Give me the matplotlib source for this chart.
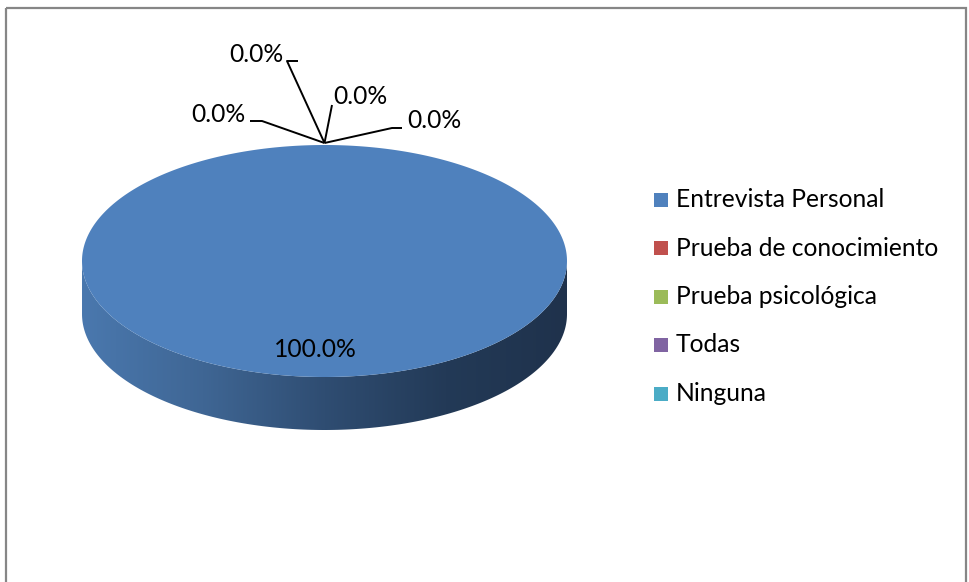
import numpy as np
import matplotlib
matplotlib.use("Agg")
import matplotlib.pyplot as plt
from matplotlib.patches import Polygon, Rectangle
from matplotlib.colors import LinearSegmentedColormap

# survey answers (percent)
categories = ["Entrevista Personal", "Prueba de conocimiento", "Prueba psicológica",
              "Todas", "Ninguna"]
values = [100.0, 0.0, 0.0, 0.0, 0.0]
colors = ["#4F81BD", "#C0504D", "#9BBB59", "#8064A2", "#4BACC6"]

plt.rcParams["font.family"] = ["Lato", "DejaVu Sans"]
FS = 17.7

fig = plt.figure(figsize=(9.69, 5.82), dpi=100)
ax = fig.add_axes([0, 0, 1, 1])
ax.set_xlim(0, 969)
ax.set_ylim(582, 0)
ax.axis("off")

# chart border (bottom edge runs off the page)
ax.add_patch(Rectangle((6.5, 7.5), 959.5, 600, fill=False, ec="#868686", lw=1.6))

# pie geometry in pixels
cx, cy, rx, ry, depth = 324.5, 261, 242.5, 116, 53


def ell(t):
    t = np.radians(t)
    return cx + rx * np.cos(t), cy - ry * np.sin(t)


side_cmap = LinearSegmentedColormap.from_list(
    "side", [(0.0, "#4A78AE"), (0.25, "#3F6694"), (0.5, "#2F4D72"),
             (0.75, "#233A57"), (1.0, "#1F324C")])

total = sum(values)
start = 90.0
anchors = []
for v, c in zip(values, colors):
    sweep = v / total * 360.0
    t1, t2 = start - sweep, start
    mid = start - sweep / 2
    anchors.append(mid)
    if v > 0:
        # visible side: front half of the rim
        lo, hi = max(t1, -180), min(t2, 0)
        if hi <= lo:
            lo, hi = -180, 0
        ts = np.linspace(lo, hi, 200)
        xs, ys = ell(ts)
        side = np.column_stack([np.r_[xs, xs[::-1]], np.r_[ys, ys[::-1] + depth]])
        clip = Polygon(side, closed=True, fc="none", ec="none")
        ax.add_patch(clip)
        grad = np.linspace(0, 1, 256)[None, :]
        im = ax.imshow(grad, cmap=side_cmap, aspect="auto",
                       extent=[cx - rx, cx + rx, cy + ry + depth + 5, cy - 5],
                       zorder=2)
        im.set_clip_path(clip)
        # top face
        ts = np.linspace(t1, t2, 400)
        xs, ys = ell(ts)
        if sweep < 360:
            xs, ys = np.r_[cx, xs], np.r_[cy, ys]
        ax.add_patch(Polygon(np.column_stack([xs, ys]), closed=True, fc=c,
                             ec="none", zorder=3))
    start -= sweep

# value labels
ax.text(cx - 9, cy + 0.76 * ry, f"{values[0]:.1f}%", fontsize=FS,
        ha="center", va="center", zorder=5)

# zero slices sit on the top edge: labels pulled out with leader lines
label_pos = [(434, 121), (360, 97), (256, 54), (218, 114.5)]
elbows = [[(402, 128), (392, 128)], [(332, 105)], [(298, 61), (287, 61)],
          [(250, 121), (262, 121)]]
for i, (v, m) in enumerate(zip(values[1:], anchors[1:])):
    ax0, ay0 = ell(m)
    pts = elbows[i]
    xs = [p[0] for p in pts] + [ax0]
    ys = [p[1] for p in pts] + [ay0 - 2]
    ax.plot(xs, ys, color="black", lw=1.4, zorder=5, solid_capstyle="butt")
    ax.text(*label_pos[i], f"{v:.1f}%", fontsize=FS, ha="center", va="center",
            zorder=5)

# legend
for i, (name, c) in enumerate(zip(categories, colors)):
    y = 199.5 + i * 48.5
    ax.add_patch(Rectangle((654, y - 7), 14, 14, fc=c, ec="none"))
    ax.text(676, y, name, fontsize=FS, ha="left", va="center")

fig.savefig("out.png", dpi=100)
